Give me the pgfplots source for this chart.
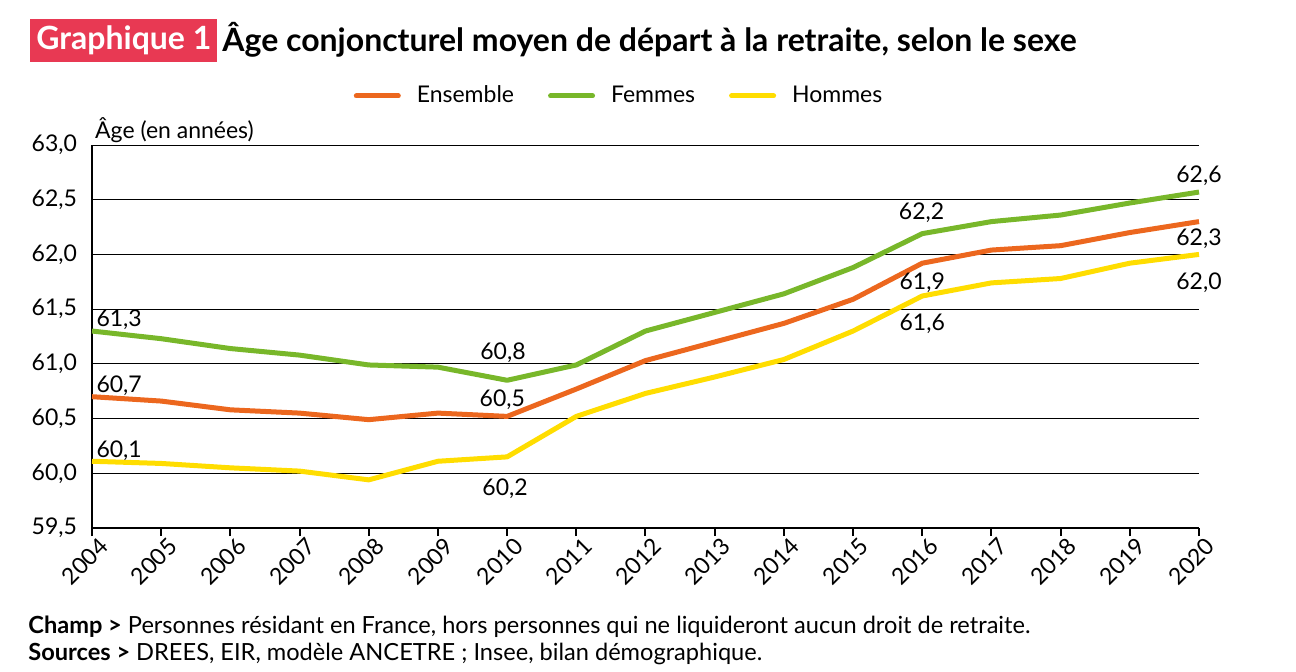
\documentclass[border=0pt]{standalone}
\usepackage{fontspec}
\setmainfont{Lato}
\usepackage{pgfplots}
\pgfplotsset{compat=1.18}
\definecolor{cOr}{RGB}{236,103,30}
\definecolor{cGr}{RGB}{120,183,42}
\definecolor{cYe}{RGB}{255,221,0}
\definecolor{cRed}{RGB}{232,57,83}
\newcommand{\fs}{\fontsize{11.5bp}{13bp}\selectfont}
\newcommand{\ff}{\fontsize{11.8bp}{13bp}\selectfont}
\begin{document}
\begin{tikzpicture}
\useasboundingbox (0,0) rectangle (648bp,-336bp);
\node[fill=cRed, text=white, font=\fontsize{16bp}{18bp}\selectfont\bfseries, anchor=west, inner xsep=3bp, minimum height=16.5bp] at (15bp,-20.25bp) {Graphique 1};
\node[anchor=base west, inner sep=0pt, font=\fontsize{16bp}{18bp}\selectfont\bfseries] at (111bp,-25.5bp) {Âge conjoncturel moyen de départ à la retraite, selon le sexe};
\begin{axis}[
  at={(46bp,-264bp)}, anchor=south west,
  scale only axis, width=553.5bp, height=191.5bp,
  xmin=2004, xmax=2020, ymin=59.5, ymax=63,
  clip=false,
  axis x line=bottom, axis y line=left,
  axis line style={-, black, line width=1bp},
  xtick={2004,...,2020}, ytick={59.5,60,...,63},
  ymajorgrids, grid style={black, line width=0.5bp},
  tick align=outside, major tick length=4bp,
  xtick style={black, line width=1bp}, ytick style={draw=none},
  ticklabel style={font=\fs},
  /pgf/number format/assume math mode=true,
  xticklabel style={rotate=45, anchor=north east, inner sep=1bp, xshift=3bp, yshift=-1bp, /pgf/number format/1000 sep={}},
  yticklabel style={/pgf/number format/.cd, fixed, fixed zerofill, precision=1, use comma},
  legend columns=3,
  legend style={at={(0.477,1.128)}, anchor=center, draw=none, font=\fs,
    /tikz/every odd column/.append style={column sep=6bp},
    /tikz/every even column/.append style={column sep=15bp}},
  legend image code/.code={\draw[#1, line width=2.5bp, line cap=round] (0bp,0bp) -- (21bp,0bp);},
  every axis plot/.append style={line width=2.5bp, line join=round},
]
\addplot[cOr] coordinates {(2004,60.70) (2005,60.66) (2006,60.58) (2007,60.55) (2008,60.49) (2009,60.55) (2010,60.52) (2011,60.77) (2012,61.03) (2013,61.20) (2014,61.37) (2015,61.59) (2016,61.92) (2017,62.04) (2018,62.08) (2019,62.20) (2020,62.30)};
\addlegendentry{Ensemble}
\addplot[cGr] coordinates {(2004,61.30) (2005,61.23) (2006,61.14) (2007,61.08) (2008,60.99) (2009,60.97) (2010,60.85) (2011,60.99) (2012,61.30) (2013,61.47) (2014,61.64) (2015,61.88) (2016,62.19) (2017,62.30) (2018,62.36) (2019,62.47) (2020,62.57)};
\addlegendentry{Femmes}
\addplot[cYe] coordinates {(2004,60.11) (2005,60.09) (2006,60.05) (2007,60.02) (2008,59.94) (2009,60.11) (2010,60.15) (2011,60.52) (2012,60.73) (2013,60.88) (2014,61.04) (2015,61.30) (2016,61.62) (2017,61.74) (2018,61.78) (2019,61.92) (2020,62.00)};
\addlegendentry{Hommes}
\node[anchor=west, font=\fs, inner sep=0pt] at (axis cs:2004.06,61.40) {61,3};
\node[anchor=west, font=\fs, inner sep=0pt] at (axis cs:2004.06,60.80) {60,7};
\node[anchor=west, font=\fs, inner sep=0pt] at (axis cs:2004.06,60.21) {60,1};
\node[font=\fs, inner sep=0pt] at (axis cs:2009.94,61.10) {60,8};
\node[font=\fs, inner sep=0pt] at (axis cs:2009.93,60.67) {60,5};
\node[font=\fs, inner sep=0pt] at (axis cs:2009.97,59.86) {60,2};
\node[font=\fs, inner sep=0pt] at (axis cs:2015.99,62.38) {62,2};
\node[font=\fs, inner sep=0pt] at (axis cs:2016,61.74) {61,9};
\node[font=\fs, inner sep=0pt] at (axis cs:2016,61.37) {61,6};
\node[font=\fs, inner sep=0pt] at (axis cs:2020,62.72) {62,6};
\node[font=\fs, inner sep=0pt] at (axis cs:2020,62.14) {62,3};
\node[font=\fs, inner sep=0pt] at (axis cs:2020,61.74) {62,0};
\node[anchor=west, font=\fs, inner sep=0pt] at (axis cs:2004.04,63.14) {Âge (en années)};
\end{axis}
\node[anchor=base west, inner sep=0pt, font=\ff] at (14bp,-316.5bp) {\textbf{Champ >} Personnes résidant en France, hors personnes qui ne liquideront aucun droit de retraite.};
\node[anchor=base west, inner sep=0pt, font=\ff] at (14bp,-330bp) {\textbf{Sources >} DREES, EIR, modèle ANCETRE ; Insee, bilan démographique.};
\end{tikzpicture}
\end{document}
